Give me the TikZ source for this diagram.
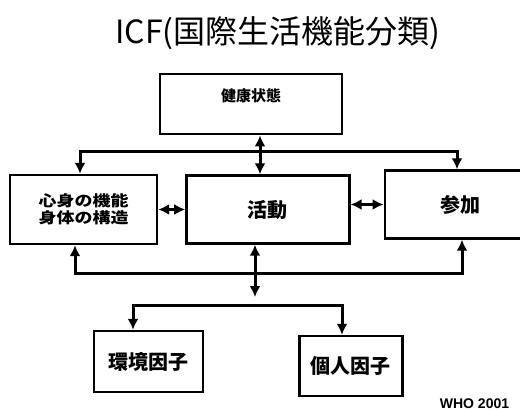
\documentclass[tikz,border=0pt]{standalone}
\usepackage{fontspec}
\setmainfont{Liberation Sans}
\newfontfamily\jpfont{Noto Sans CJK JP}
\usetikzlibrary{arrows.meta,positioning}
\tikzstyle{box} = [rectangle, draw=black, line width=2.4pt, fill=white, text=black, align=center, font=\jpfont\bfseries\fontsize{20}{22}\selectfont, inner sep=0pt]
\tikzstyle{textonly} = [draw=none, fill=none, text centered]
\tikzstyle{tedge} = [draw, line width=3pt, -{Latex[length=11pt,width=11pt]}]
\tikzstyle{dedge} = [draw, line width=3pt, {Latex[length=11pt,width=11pt]}-{Latex[length=11pt,width=11pt]}]

\begin{document}
\begin{tikzpicture}[x=1pt,y=-1pt]
\useasboundingbox (0,0) rectangle (520,412);
\clip (0,0) rectangle (520,412);

% title ==================================
\node[textonly, font=\jpfont\fontsize{32}{35}\selectfont] (title) at (278,33) {ICF(国際生活機能分類)};

% boxes ==================================

% health condition
\node[box, anchor=north, minimum width=182pt, text height=27pt, text depth=33pt, font=\jpfont\bfseries\fontsize{15}{17}\selectfont] (health) at (251,73) {健康状態};

% middle row
\node[box, minimum width=147pt, minimum height=69pt, font=\jpfont\bfseries\fontsize{15}{17}\selectfont] (body) at (83.5,209.5) {\scalebox{1.2}[1]{心身の機能}\\\scalebox{1.2}[1]{身体の構造}};
\node[box, minimum width=163pt, minimum height=68pt, right=27pt of body] (act) {活動};
\node[box, minimum width=152pt, minimum height=68pt, right=33pt of act, yshift=5pt] (part) {参加};

% factors
\node[box, minimum width=109pt, minimum height=61pt] (env) at (148.5,361.5) {環境因子};
\node[box, minimum width=103pt, minimum height=60pt, right=94pt of env, yshift=-4.5pt] (pers) {個人因子};

\node[textonly, font=\bfseries\fontsize{14}{16}\selectfont] (who) at (474.5,404) {WHO 2001};

% hubs ===================================
\coordinate (hubT) at (260,151);
\coordinate (bodyT) at (80,151);
\coordinate (partT) at (457,151);
\coordinate (hubB) at (255,273);
\coordinate (bodyB) at (75,273);
\coordinate (partB) at (462,273);
\coordinate (hubE) at (255,297);
\coordinate (hubF) at (255,305);
\coordinate (envT) at (133,305);
\coordinate (persT) at (342,305);

%edges top
\path[dedge] (health.south -| hubT) -- (act.north -| hubT);
\path[tedge] (hubT) -- (bodyT) -- (body.north -| bodyT);
\path[tedge] (hubT) -- (partT) -- (part.north -| partT);

%edges middle
\path[dedge] (body.east) -- (act.west);
\path[dedge] (act.east |- part) -- (part.west);

%edges bottom
\path[tedge] (hubB) -- (bodyB) -- (body.south -| bodyB);
\path[tedge] (hubB) -- (partB) -- (part.south -| partB);
\path[dedge] (act.south -| hubE) -- (hubE);
\path[tedge] (hubF) -- (envT) -- (env.north -| envT);
\path[tedge] (hubF) -- (persT) -- (pers.north -| persT);

\end{tikzpicture}
\end{document}
